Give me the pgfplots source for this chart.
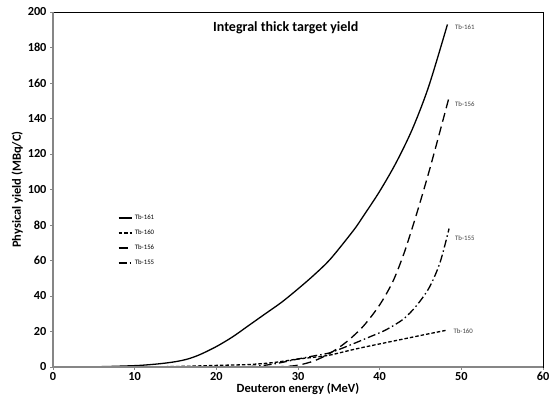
\documentclass[border=0pt]{standalone}
\usepackage{pgfplots}
\pgfplotsset{compat=1.18}
\usepackage{fontspec}
\setmainfont{Carlito}
\definecolor{axgray}{RGB}{134,134,134}
\newcommand{\tb}[1]{\mbox{\fontsize{12.3}{13}\selectfont\bfseries #1}}
\begin{document}
\begin{tikzpicture}
\path[use as bounding box] (-53pt,-36pt) rectangle (501pt,367pt);
\begin{axis}[
  at={(0,0)}, anchor=south west,
  scale only axis, width=490pt, height=355pt,
  xmin=0, xmax=60, ymin=0, ymax=200,
  xtick={0,10,...,60}, ytick={0,20,...,200},
  xticklabels={\tb{0},\tb{10},\tb{20},\tb{30},\tb{40},\tb{50},\tb{60}},
  yticklabels={\tb{0},\tb{20},\tb{40},\tb{60},\tb{80},\tb{100},\tb{120},\tb{140},\tb{160},\tb{180},\tb{200}},
  tick align=outside, tick pos=left,
  major tick length=3pt,
  tick style={axgray, line width=0.6pt},
  axis line style={black, line width=0.8pt},
  xticklabel style={yshift=1pt},
  xlabel={\bfseries Deuteron energy (MeV)},
  ylabel={\bfseries Physical yield (MBq/C)},
  label style={font=\fontsize{12.5}{14}\selectfont},
  xlabel style={yshift=5pt},
  ylabel style={yshift=-2pt},
  legend style={draw=none, fill=none, at={(axis cs:7.8,87.5)}, anchor=north west,
    font=\fontsize{6.8}{7}\selectfont, row sep=4.8pt, inner sep=1pt},
  legend cell align=left,
  legend image post style={xscale=0.8},
  clip=false,
]
\addplot[black, line width=1.3pt, smooth] coordinates {
(3.3,0) (6,0.2) (8,0.45) (10.6,0.9) (13,1.8) (15,3) (16.5,4.5) (18,7) (20,11.5) (22,17) (24,23.5) (26,30) (28,36.5) (30,44) (32,52) (34,61) (36.8,77) (38,85) (40,99) (42,115) (44,134) (46,158) (48.3,193)};
\addlegendentry{Tb-161}
\addplot[black, line width=1.3pt, smooth, dash pattern=on 3.5pt off 2pt] coordinates {
(11,0) (14,0.2) (17,0.5) (20,0.9) (24,1.4) (27,2.5) (30,4.5) (32,5.5) (33.9,6.7) (36,9) (37.9,11) (40,13) (42.1,15) (44,16.8) (46,18.7) (48.3,20.8)};
\addlegendentry{Tb-160}
\addplot[black, line width=1.3pt, smooth, dash pattern=on 9pt off 5pt] coordinates {
(22,0) (25,0) (28,0.2) (30,1) (32,3.5) (33.9,7.7) (35.9,14) (38,23) (40,35) (41.6,48) (42.9,63) (43.9,77) (44.9,92) (46.1,111) (47.4,133) (48.5,152)};
\addlegendentry{Tb-156}
\addplot[black, line width=1.3pt, smooth, dash pattern=on 8pt off 3pt on 1.5pt off 3pt] coordinates {
(22,0) (25,0.5) (27.4,2) (30,4.5) (32,6.3) (33.9,8) (36.4,12.4) (38.8,17) (40.8,21) (42.9,27) (44.5,34.5) (46.1,45) (47.4,59) (48.5,78)};
\addlegendentry{Tb-155}
\draw[axgray, line width=1.6pt] (rel axis cs:0,1) -- (rel axis cs:0,0) -- (rel axis cs:1,0);
\node[anchor=center, font=\fontsize{14}{16}\selectfont\bfseries] at (axis cs:28.5,191) {Integral thick target yield};
\begin{scope}[every node/.style={anchor=west, font=\fontsize{6.8}{7}\selectfont, text=black!75, inner sep=1pt}]
\node at (axis cs:49.1,191.5) {Tb-161};
\node at (axis cs:49.1,148) {Tb-156};
\node at (axis cs:49.1,72.7) {Tb-155};
\node at (axis cs:48.9,20.3) {Tb-160};
\end{scope}
\end{axis}
\end{tikzpicture}
\end{document}
